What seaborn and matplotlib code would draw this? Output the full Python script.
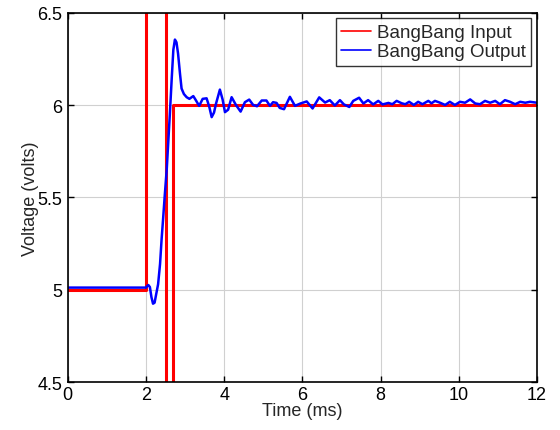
import matplotlib
matplotlib.use("Agg")
import matplotlib.pyplot as plt
import seaborn as sns
import pandas as pd

# Input (bang-bang command)
t_in = [0.0, 2.0, 2.0, 2.5, 2.5, 2.7, 2.7, 12.0]
v_in = [5.0, 5.0, 10.0, 10.0, 0.0, 0.0, 6.0, 6.0]

# Output response
t_out = [0.0, 2.00, 2.03, 2.06, 2.10, 2.14, 2.18, 2.22, 2.26, 2.31, 2.36, 2.40, 2.44,
         2.48, 2.53, 2.57, 2.61, 2.66, 2.70, 2.74, 2.78, 2.82, 2.87, 2.91, 2.97,
         3.04, 3.11, 3.21, 3.28, 3.36, 3.45, 3.55, 3.62, 3.68, 3.74, 3.79, 3.89,
         3.96, 4.02, 4.10, 4.19, 4.30, 4.42, 4.53, 4.64, 4.74, 4.84, 4.96, 5.08,
         5.17, 5.25, 5.34, 5.42, 5.53, 5.68, 5.81, 5.95, 6.11, 6.26, 6.43, 6.58,
         6.70, 6.83, 6.96, 7.06, 7.20, 7.30, 7.45, 7.56, 7.68, 7.81, 7.94, 8.05,
         8.20, 8.30, 8.41, 8.54, 8.63, 8.73, 8.85, 8.96, 9.07, 9.22, 9.30, 9.39,
         9.52, 9.65, 9.77, 9.90, 10.03, 10.16, 10.29, 10.42, 10.54, 10.67, 10.80,
         10.93, 11.05, 11.18, 11.31, 11.44, 11.57, 11.70, 11.82, 12.0]
v_out = [5.012, 5.012, 5.020, 5.026, 5.015, 4.960, 4.925, 4.930, 4.975, 5.030, 5.140,
         5.275, 5.390, 5.510, 5.650, 5.800, 5.950, 6.150, 6.300, 6.355, 6.340, 6.280,
         6.170, 6.090, 6.060, 6.043, 6.034, 6.049, 6.025, 5.996, 6.034, 6.037, 5.990,
         5.935, 5.960, 6.007, 6.084, 6.030, 5.962, 5.975, 6.043, 6.001, 5.965, 6.016,
         6.030, 6.001, 5.994, 6.025, 6.025, 5.996, 6.016, 6.012, 5.985, 5.978, 6.045,
         5.996, 6.009, 6.020, 5.982, 6.042, 6.014, 6.027, 5.998, 6.027, 6.004, 5.990,
         6.023, 6.040, 6.009, 6.027, 6.004, 6.023, 6.004, 6.012, 6.005, 6.023, 6.010,
         6.005, 6.018, 6.001, 6.018, 6.005, 6.023, 6.010, 6.023, 6.013, 6.001, 6.018,
         6.001, 6.018, 6.013, 6.031, 6.009, 6.005, 6.023, 6.013, 6.023, 6.005, 6.027,
         6.018, 6.005, 6.018, 6.013, 6.018, 6.013]

df_in = pd.DataFrame({"t": t_in, "v": v_in})
df_out = pd.DataFrame({"t": t_out, "v": v_out})

sns.set_style("white")
plt.rcParams["font.family"] = ["Liberation Sans", "DejaVu Sans"]

FS = 13
fig = plt.figure(figsize=(5.6, 4.31), dpi=100)
ax = fig.add_axes([0.121, 0.111, 0.838, 0.857])

sns.lineplot(data=df_in, x="t", y="v", ax=ax, sort=False, estimator=None,
             color="#ff0000", linewidth=2.2, label="BangBang Input")
sns.lineplot(data=df_out, x="t", y="v", ax=ax, sort=False, estimator=None,
             color="#0000ff", linewidth=1.8, label="BangBang Output")

ax.set_xlim(0, 12)
ax.set_ylim(4.5, 6.5)
ax.set_xticks([0, 2, 4, 6, 8, 10, 12])
ax.set_xticklabels(["0", "2", "4", "6", "8", "10", "12"])
ax.set_yticks([4.5, 5, 5.5, 6, 6.5])
ax.set_yticklabels(["4.5", "5", "5.5", "6", "6.5"])
ax.grid(True, color="#d0d0d0", linewidth=0.8, linestyle="-")
ax.set_axisbelow(True)
for s in ax.spines.values():
    s.set_visible(True)
    s.set_color("black")
    s.set_linewidth(1.2)
ax.tick_params(direction="in", length=4, width=1, top=True, right=True,
               bottom=True, left=True, labelsize=FS, colors="black")
ax.tick_params(axis="x", pad=3)
ax.tick_params(axis="y", pad=4)
ax.set_xlabel("Time (ms)", fontsize=FS, labelpad=-1)
ax.set_ylabel("Voltage (volts)", fontsize=FS, labelpad=-1)

leg = ax.legend(loc="upper right", fontsize=FS + 0.5, frameon=True, fancybox=False,
                edgecolor="black", borderpad=0.3, labelspacing=0.1,
                handlelength=1.6, handletextpad=0.3, borderaxespad=0.3)
leg.get_frame().set_linewidth(1.0)
for ln in leg.get_lines():
    ln.set_linewidth(1.2)

fig.savefig("out.png", dpi=100)
